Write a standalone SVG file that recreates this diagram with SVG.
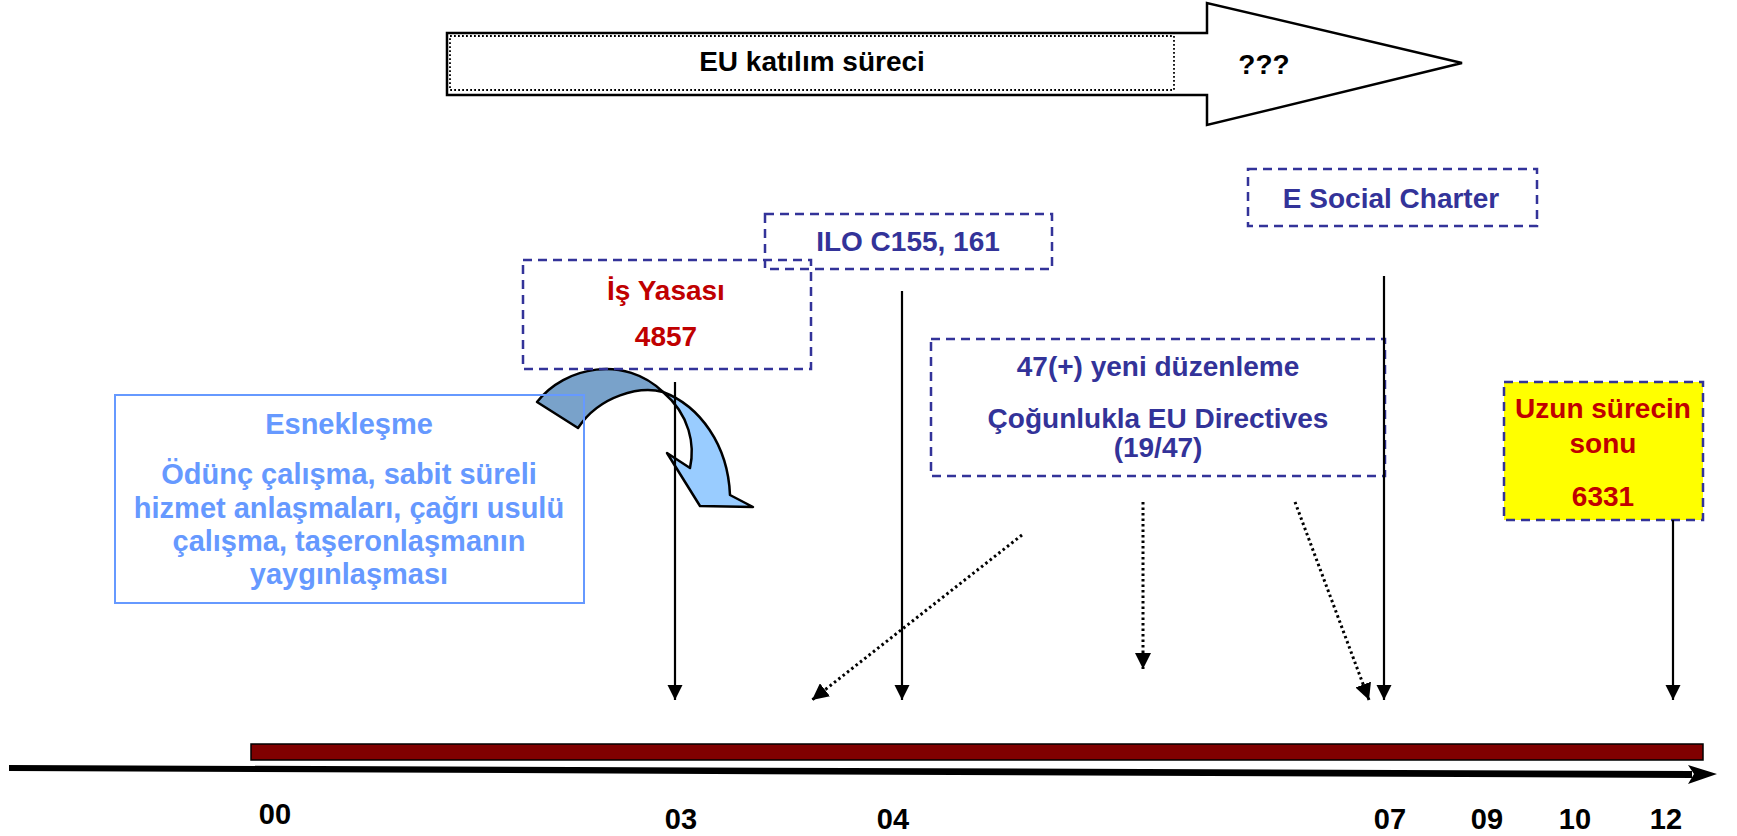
<svg xmlns="http://www.w3.org/2000/svg" width="1737" height="836" viewBox="0 0 1737 836">
<defs>
<style>
text{font-family:"Liberation Sans",Arial,sans-serif;font-weight:bold;font-size:28px;text-anchor:middle}
.blue{fill:#333399}
.red{fill:#C00000}
.lb{fill:#6699FF;font-size:29px}
.blk{fill:#000}
.yr{fill:#000;font-size:29px}
.dbox{fill:none;stroke:#333399;stroke-width:2.5;stroke-dasharray:9,6}
.ln{stroke:#000;stroke-width:2.2;fill:none}
.dot{stroke:#000;stroke-width:3;fill:none;stroke-dasharray:2.5,3}
</style>
<marker id="ah" viewBox="0 0 10 10" refX="10" refY="5" markerWidth="7" markerHeight="7" markerUnits="strokeWidth" orient="auto">
<path d="M0,0 L10,5 L0,10 Z" fill="#000"/>
</marker>
<marker id="ahd" viewBox="0 0 10 10" refX="10" refY="5" markerWidth="5.5" markerHeight="5.5" markerUnits="strokeWidth" orient="auto">
<path d="M0,0 L10,5 L0,10 Z" fill="#000"/>
</marker>
</defs>
<rect width="1737" height="836" fill="#fff"/>

<g id="eu-arrow">
<path d="M447,33 L1207,33 L1207,3 L1462,63 L1207,125 L1207,95 L447,95 Z" fill="#fff" stroke="#000" stroke-width="2.5"/>
<rect x="450" y="36" width="724" height="54" fill="none" stroke="#000" stroke-width="1.8" stroke-dasharray="1.8,2.2"/>
<text x="812" y="71" class="blk">EU katılım süreci</text>
<text x="1264" y="74" class="blk">???</text>
</g>

<g id="curved-arrow">
<path d="M537,402 C565,366 625,355 663,392 C640,386 600,395 578,428 Z" fill="#79A2CA" stroke="#000" stroke-width="2.5" stroke-linejoin="round"/>
<path d="M663,392 C700,406 728,445 730,495 L753,507 L700,506 L667,453 L690,468 C695,445 690,415 663,392 Z" fill="#99CCFF" stroke="#000" stroke-width="2.5" stroke-linejoin="round"/>
</g>

<g id="esneklesme">
<rect x="115" y="395" width="469" height="208" fill="none" stroke="#6699FF" stroke-width="2"/>
<text x="349" y="434" class="lb">Esnekleşme</text>
<text x="349" y="484" class="lb">Ödünç çalışma, sabit süreli</text>
<text x="349" y="518" class="lb">hizmet anlaşmaları, çağrı usulü</text>
<text x="349" y="551" class="lb">çalışma, taşeronlaşmanın</text>
<text x="349" y="584" class="lb">yaygınlaşması</text>
</g>

<g id="is-yasasi">
<rect x="523" y="260" width="288" height="109" class="dbox"/>
<text x="666" y="300" class="red">İş Yasası</text>
<text x="666" y="346" class="red">4857</text>
</g>

<g id="ilo">
<rect x="765" y="214" width="287" height="55" class="dbox"/>
<text x="908" y="251" class="blue">ILO C155, 161</text>
</g>

<g id="social-charter">
<rect x="1248" y="169" width="289" height="57" class="dbox"/>
<text x="1391" y="208" class="blue">E Social Charter</text>
</g>

<g id="duzenleme">
<rect x="931" y="339" width="454" height="137" class="dbox"/>
<text x="1158" y="376" class="blue">47(+) yeni düzenleme</text>
<text x="1158" y="428" class="blue">Çoğunlukla EU Directives</text>
<text x="1158" y="457" class="blue">(19/47)</text>
</g>

<g id="uzun-surecin">
<rect x="1504" y="382" width="199" height="138" fill="#FFFF00" stroke="#333399" stroke-width="2.5" stroke-dasharray="9,6"/>
<text x="1603" y="418" class="red">Uzun sürecin</text>
<text x="1603" y="453" class="red">sonu</text>
<text x="1603" y="506" class="red">6331</text>
</g>

<g id="timeline">
<rect x="251" y="744" width="1452" height="16" fill="#800000" stroke="#000" stroke-width="1.5"/>
<path d="M9,765 L1692,771 L1692,778 L9,771 Z" fill="#000"/>
<path d="M1717,774 L1688,765 L1694,774 L1688,784 Z" fill="#000"/>
<text x="275" y="824" class="yr">00</text>
<text x="681" y="829" class="yr">03</text>
<text x="893" y="829" class="yr">04</text>
<text x="1390" y="829" class="yr">07</text>
<text x="1487" y="829" class="yr">09</text>
<text x="1575" y="829" class="yr">10</text>
<text x="1666" y="829" class="yr">12</text>
</g>

<g id="connectors">
<line x1="675" y1="382" x2="675" y2="700" class="ln" marker-end="url(#ah)"/>
<line x1="902" y1="291" x2="902" y2="700" class="ln" marker-end="url(#ah)"/>
<line x1="1384" y1="276" x2="1384" y2="700" class="ln" marker-end="url(#ah)"/>
<line x1="1673" y1="520" x2="1673" y2="700" class="ln" marker-end="url(#ah)"/>
<line x1="1022" y1="535" x2="812" y2="700" class="dot" marker-end="url(#ahd)"/>
<line x1="1143" y1="502" x2="1143" y2="669" class="dot" marker-end="url(#ahd)"/>
<line x1="1295" y1="502" x2="1369" y2="700" class="dot" marker-end="url(#ahd)"/>
</g>
</svg>
